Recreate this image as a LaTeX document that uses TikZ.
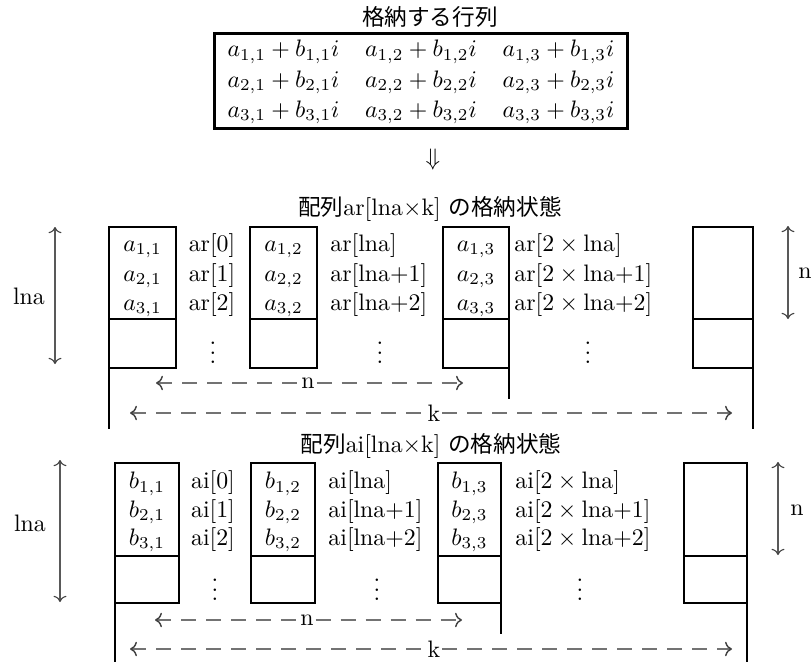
\documentclass[tikz,border=0pt]{standalone}
\usepackage{fontspec}
\newfontfamily\jp[Scale=0.95]{Noto Sans CJK JP}
\usetikzlibrary{arrows.meta}
\begin{document}
\begin{tikzpicture}[x=0.42pt,y=-0.42pt,
  boxline/.style={line width=1.25pt},
  dimarrow/.style={{Computer Modern Rightarrow[color=black!75]}-{Computer Modern Rightarrow[color=black!75]}, line width=0.45pt, draw=black!65},
  dasharrow/.style={draw=black!55, line width=0.6pt, dash pattern=on 6.3pt off 4.2pt},
  tipL/.style={{Computer Modern Rightarrow[color=black!75]}-},
  tipR/.style={-{Computer Modern Rightarrow[color=black!75]}},
  lbl/.style={inner sep=0pt, anchor=base},
  lblw/.style={inner sep=0pt, anchor=base west},
  gap/.style={fill=white, inner sep=0.6pt}]
\useasboundingbox (0,0) rectangle (811,662);

% ---------- top matrix ----------
\node[inner sep=0pt] (ttl) at (430,17) {\jp 格納する行列};
\node[draw, line width=1.25pt, inner xsep=0pt, inner ysep=0.8pt] (mat) at (421,81)
 {\setlength{\tabcolsep}{5.4pt}\renewcommand{\arraystretch}{1.06}%
 \begin{tabular}{lll}
 $a_{1,1}+b_{1,1}i$ & $a_{1,2}+b_{1,2}i$ & $a_{1,3}+b_{1,3}i$\\
 $a_{2,1}+b_{2,1}i$ & $a_{2,2}+b_{2,2}i$ & $a_{2,3}+b_{2,3}i$\\
 $a_{3,1}+b_{3,1}i$ & $a_{3,2}+b_{3,2}i$ & $a_{3,3}+b_{3,3}i$
 \end{tabular}};
\node[inner sep=0pt] (dn) at (433,160) {$\Downarrow$};

% ---------- upper block: ar ----------
\node[inner sep=0pt] (ttlA) at (430,209) {{\jp 配列}ar[lna$\times$k] {\jp の格納状態}};
\foreach \xa/\xb in {109/176, 250/317, 443/509, 693/753}{
  \draw[boxline] (\xa,227) rectangle (\xb,368);
  \draw[boxline] (\xa,319) -- (\xb,319);
}
\draw[boxline] (109,368) -- (109,429);
\draw[boxline] (509,368) -- (509,399);
\draw[boxline] (753,368) -- (753,429);
\foreach \r/\y in {1/251, 2/281, 3/310}{
  \node[lbl] (a\r1) at (142.5,\y) {$a_{\r,1}$};
  \node[lbl] (a\r2) at (283.5,\y) {$a_{\r,2}$};
  \node[lbl] (a\r3) at (476,\y) {$a_{\r,3}$};
}
\node[lbl] (ar0) at (212,251) {ar[0]};
\node[lbl] (ar1) at (212,281) {ar[1]};
\node[lbl] (ar2) at (212,310) {ar[2]};
\node[lblw] (arl0) at (330,251) {ar[lna]};
\node[lblw] (arl1) at (330,281) {ar[lna+1]};
\node[lblw] (arl2) at (330,310) {ar[lna+2]};
\node[lblw] (arm0) at (514,251) {ar[$2\times{}$lna]};
\node[lblw] (arm1) at (514,281) {ar[$2\times{}$lna+1]};
\node[lblw] (arm2) at (514,310) {ar[$2\times{}$lna+2]};
\node[inner sep=0pt] (vA1) at (213,346) {$\vdots$};
\node[inner sep=0pt] (vA2) at (380,346) {$\vdots$};
\node[inner sep=0pt] (vA3) at (588,346) {$\vdots$};
% lna / n dimension arrows
\coordinate (lnaAt) at (55,227); \coordinate (lnaAb) at (55,364);
\draw[dimarrow] (lnaAt) -- (lnaAb);
\node[inner sep=0pt] (lnaA) at (29,296) {lna};
\coordinate (nAt) at (788,226); \coordinate (nAb) at (788,319);
\draw[dimarrow] (nAt) -- (nAb);
\node[inner sep=0pt] (nA) at (805,273) {n};
% dashed n and k
\node[gap] (nnA) at (308,383) {n};
\coordinate (nAl) at (156,383); \coordinate (nAr) at (463,383);
\draw[dasharrow, tipL] (nAl) -- (nnA.west);
\draw[dasharrow, tipR] (nnA.east) -- (nAr);
\node[gap] (kkA) at (434,413) {k};
\coordinate (kAl) at (130,413); \coordinate (kAr) at (732,413);
\draw[dasharrow, tipL] (kAl) -- (kkA.west);
\draw[dasharrow, tipR] (kkA.east) -- (kAr);

% ---------- lower block: ai ----------
\node[inner sep=0pt] (ttlB) at (431,446) {{\jp 配列}ai[lna$\times$k] {\jp の格納状態}};
\foreach \xa/\xb in {115/179, 251/315, 438/501, 684/747}{
  \draw[boxline] (\xa,463) rectangle (\xb,603);
  \draw[boxline] (\xa,556) -- (\xb,556);
}
\draw[boxline] (115,603) -- (115,662);
\draw[boxline] (501,603) -- (501,634);
\draw[boxline] (747,603) -- (747,662);
\foreach \r/\y in {1/489, 2/517, 3/545}{
  \node[lbl] (b\r1) at (147,\y) {$b_{\r,1}$};
  \node[lbl] (b\r2) at (283,\y) {$b_{\r,2}$};
  \node[lbl] (b\r3) at (469.5,\y) {$b_{\r,3}$};
}
\node[lbl] (ai0) at (213,489) {ai[0]};
\node[lbl] (ai1) at (213,517) {ai[1]};
\node[lbl] (ai2) at (213,545) {ai[2]};
\node[lblw] (ail0) at (328,489) {ai[lna]};
\node[lblw] (ail1) at (328,517) {ai[lna+1]};
\node[lblw] (ail2) at (328,545) {ai[lna+2]};
\node[lblw] (aim0) at (515,489) {ai[$2\times{}$lna]};
\node[lblw] (aim1) at (515,517) {ai[$2\times{}$lna+1]};
\node[lblw] (aim2) at (515,545) {ai[$2\times{}$lna+2]};
\node[inner sep=0pt] (vB1) at (215,583) {$\vdots$};
\node[inner sep=0pt] (vB2) at (377,583) {$\vdots$};
\node[inner sep=0pt] (vB3) at (580,583) {$\vdots$};
\coordinate (lnaBt) at (60,460); \coordinate (lnaBb) at (60,602);
\draw[dimarrow] (lnaBt) -- (lnaBb);
\node[inner sep=0pt] (lnaB) at (30,523) {lna};
\coordinate (nBt) at (778,462); \coordinate (nBb) at (778,555);
\draw[dimarrow] (nBt) -- (nBb);
\node[inner sep=0pt] (nB) at (797,510) {n};
\node[gap] (nnB) at (307,620) {n};
\coordinate (nBl) at (155,620); \coordinate (nBr) at (462,620);
\draw[dasharrow, tipL] (nBl) -- (nnB.west);
\draw[dasharrow, tipR] (nnB.east) -- (nBr);
\node[gap] (kkB) at (434,649) {k};
\coordinate (kBl) at (130,649); \coordinate (kBr) at (732,649);
\draw[dasharrow, tipL] (kBl) -- (kkB.west);
\draw[dasharrow, tipR] (kkB.east) -- (kBr);
\end{tikzpicture}
\end{document}
